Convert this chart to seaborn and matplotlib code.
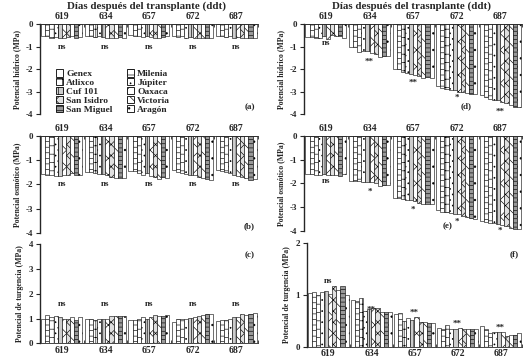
import numpy as np
import pandas as pd
import matplotlib
matplotlib.use("Agg")
import matplotlib.pyplot as plt
import seaborn as sns
from matplotlib.patches import Patch

sns.set_style("white")
plt.rcParams["font.family"] = ["Liberation Serif", "DejaVu Serif"]
plt.rcParams["font.weight"] = "bold"
plt.rcParams["axes.unicode_minus"] = False
plt.rcParams["hatch.linewidth"] = 0.45

days = ["619", "634", "657", "672", "687"]
cultivars = ["Genex", "Milenia", "Atlixco", "Júpiter", "Cuf 101",
             "Oaxaca", "San Isidro", "Victoria", "San Miguel", "Aragón"]

# (a) water potential, left
wp_a = [
    [-0.55, -0.55, -0.60, -0.58, -0.60, -0.62, -0.58, -0.55, -0.60, -0.58],
    [-0.52, -0.55, -0.58, -0.55, -0.58, -0.60, -0.62, -0.60, -0.58, -0.60],
    [-0.50, -0.52, -0.55, -0.58, -0.55, -0.58, -0.60, -0.62, -0.58, -0.55],
    [-0.55, -0.58, -0.55, -0.60, -0.58, -0.62, -0.60, -0.62, -0.60, -0.62],
    [-0.52, -0.55, -0.58, -0.55, -0.60, -0.58, -0.62, -0.60, -0.62, -0.60],
]
# (d) water potential, right
wp_d = [
    [-0.57, -0.57, -0.60, -0.60, -0.55, -0.65, -0.50, -0.55, -0.55, -0.60],
    [-1.00, -1.00, -1.25, -1.20, -1.22, -1.30, -1.35, -1.45, -1.40, -1.40],
    [-1.98, -2.00, -2.15, -2.18, -2.20, -2.25, -2.30, -2.40, -2.35, -2.40],
    [-2.75, -2.85, -2.90, -2.95, -2.95, -3.00, -3.00, -3.08, -3.10, -3.12],
    [-3.15, -3.25, -3.35, -3.40, -3.40, -3.45, -3.50, -3.60, -3.70, -3.68],
]
# (b) osmotic potential, left
op_b = [
    [-1.57, -1.62, -1.60, -1.65, -1.65, -1.62, -1.60, -1.55, -1.60, -1.62],
    [-1.48, -1.48, -1.55, -1.58, -1.58, -1.60, -1.70, -1.75, -1.72, -1.72],
    [-1.45, -1.45, -1.55, -1.60, -1.55, -1.65, -1.70, -1.78, -1.70, -1.75],
    [-1.42, -1.50, -1.52, -1.58, -1.60, -1.62, -1.68, -1.72, -1.78, -1.82],
    [-1.42, -1.45, -1.50, -1.55, -1.60, -1.65, -1.70, -1.75, -1.82, -1.80],
]
# (e) osmotic potential, right
op_e = [
    [-1.60, -1.60, -1.65, -1.65, -1.60, -1.65, -1.65, -1.65, -1.70, -1.60],
    [-1.90, -1.90, -1.90, -1.95, -1.95, -1.95, -2.00, -2.10, -2.05, -2.05],
    [-2.62, -2.62, -2.65, -2.70, -2.70, -2.75, -2.80, -2.88, -2.85, -2.85],
    [-3.12, -3.18, -3.20, -3.25, -3.30, -3.30, -3.35, -3.40, -3.45, -3.47],
    [-3.58, -3.60, -3.65, -3.65, -3.70, -3.75, -3.80, -3.85, -3.90, -3.90],
]
# (c) turgor potential, left
tp_c = [
    [1.00, 1.15, 1.05, 1.12, 1.05, 1.00, 0.98, 1.08, 0.95, 1.05],
    [0.97, 0.97, 0.95, 1.00, 1.00, 1.00, 1.10, 1.12, 1.12, 1.12],
    [0.95, 0.95, 0.97, 1.05, 1.00, 1.08, 1.15, 1.12, 1.12, 1.15],
    [0.88, 0.97, 0.97, 1.00, 1.02, 1.05, 1.10, 1.15, 1.18, 1.20],
    [0.90, 0.93, 0.93, 1.00, 1.05, 1.05, 1.20, 1.15, 1.20, 1.22],
]
# (f) turgor potential, right
tp_f = [
    [1.03, 1.06, 1.00, 1.06, 1.08, 1.02, 1.18, 1.10, 1.17, 1.00],
    [0.90, 0.88, 0.94, 0.69, 0.73, 0.75, 0.74, 0.66, 0.66, 0.66],
    [0.63, 0.645, 0.50, 0.56, 0.52, 0.57, 0.47, 0.48, 0.45, 0.45],
    [0.37, 0.34, 0.41, 0.35, 0.34, 0.37, 0.35, 0.34, 0.34, 0.35],
    [0.39, 0.34, 0.26, 0.28, 0.28, 0.28, 0.21, 0.23, 0.23, 0.26],
]

sig_a = ["ns", "ns", "ns", "ns", "ns"]
sig_d = ["ns", "**", "**", "*", "**"]
sig_b = ["ns", "ns", "ns", "ns", "ns"]
sig_e = ["ns", "*", "*", "*", "*"]
sig_c = ["ns", "ns", "ns", "ns", "ns"]
sig_f = ["ns", "**", "**", "**", "**"]

sig_y_a = [-1.0, -1.0, -1.0, -1.0, -1.0]
sig_y_d = [-0.85, -1.68, -2.62, -3.3, -3.9]
sig_y_b = [-2.0, -2.0, -2.0, -2.0, -2.0]
sig_y_e = [-1.9, -2.35, -3.1, -3.6, -4.0]
sig_y_c = [1.6, 1.6, 1.6, 1.6, 1.6]
sig_y_f = [1.27, 0.72, 0.66, 0.45, 0.37]

hatches = ["", "---", "++", "...", "|||",
           "xx", "xxx", "\\\\", "----", ".."]
fills = ["white", "white", "white", "white", "#cccccc",
         "white", "#e0e0e0", "white", "#999999", "white"]


def make_df(values):
    rows = []
    for d, vals in zip(days, values):
        for c, v in zip(cultivars, vals):
            rows.append({"day": d, "cultivar": c, "value": v})
    return pd.DataFrame(rows)


fig = plt.figure(figsize=(5.29, 3.59), dpi=100)

L, R, W = 0.0756, 0.575, 0.412
axes_spec = {
    "a": [L, 0.6825, W, 0.2505],
    "b": [L, 0.351, W, 0.271],
    "c": [L, 0.0437, W, 0.2758],
    "d": [R, 0.6825, W, 0.2505],
    "e": [R, 0.356, W, 0.266],
    "f": [R + 0.005, 0.0343, W - 0.005, 0.2887],
}

panels = [
    ("a", wp_a, sig_a, sig_y_a, "Potencial hídrico (MPa)", (-4, 0), [0, -1, -2, -3, -4], True),
    ("b", op_b, sig_b, sig_y_b, "Potencial osmótico (MPa)", (-4, 0), [0, -1, -2, -3, -4], True),
    ("c", tp_c, sig_c, sig_y_c, "Potencial de turgencia (MPa)", (0, 4), [0, 1, 2, 3, 4], False),
    ("d", wp_d, sig_d, sig_y_d, "Potencial hídrico (MPa)", (-4, 0), [0, -1, -2, -3, -4], True),
    ("e", op_e, sig_e, sig_y_e, "Potencial osmótico (MPa)", (-4, 0), [0, -1, -2, -3, -4], True),
    ("f", tp_f, sig_f, sig_y_f, "Potencial de turgencia (MPa)", (0, 2), [0, 1, 2], False),
]

axd = {}
for key, vals, sig, sigy, ylabel, ylim, yticks, top in panels:
    ax = fig.add_axes(axes_spec[key])
    axd[key] = ax
    df = make_df(vals)
    sns.barplot(data=df, x="day", y="value", hue="cultivar", order=days,
                hue_order=cultivars, palette=["white"] * 10, edgecolor="black",
                linewidth=0.4, width=0.94, legend=False, ax=ax, errorbar=None)
    for cont, h, fc in zip(ax.containers, hatches, fills):
        for p in cont:
            p.set_hatch(h)
            p.set_facecolor(fc)
    ax.set_ylim(*ylim)
    ax.set_xlim(-0.5, 4.5)
    ax.set_yticks(yticks)
    ax.set_yticklabels([str(t) for t in yticks], fontsize=6.5, fontweight="bold")
    ax.set_xlabel("")
    ax.set_ylabel(ylabel, fontsize=5.6, fontweight="bold", labelpad=3)
    ax.spines["right"].set_visible(False)
    ax.spines["left"].set_linewidth(1.0)
    if top:
        ax.spines["bottom"].set_visible(False)
        ax.spines["top"].set_linewidth(0.6)
        ax.xaxis.tick_top()
    else:
        ax.spines["top"].set_visible(False)
        ax.spines["bottom"].set_linewidth(0.6)
    ax.set_xticks(range(5))
    ax.set_xticklabels(days, fontsize=7, fontweight="bold")
    ax.set_xticks([-0.5, 0.5, 1.5, 2.5, 3.5, 4.5], minor=True)
    ax.tick_params(axis="x", which="major", length=0, pad=2)
    ax.tick_params(axis="x", which="minor", length=2, width=0.6, direction="in",
                   top=top, bottom=not top)
    ax.tick_params(axis="y", length=3, width=0.8, direction="out", left=True, pad=2)
    for i, (s, y) in enumerate(zip(sig, sigy)):
        ax.text(i, y, s, ha="center", va="center", fontsize=6.5, fontweight="bold")

# panel letters
axd["a"].text(0.985, 0.03, "(a)", transform=axd["a"].transAxes, ha="right", va="bottom", fontsize=6.5, fontweight="bold")
axd["b"].text(0.985, 0.03, "(b)", transform=axd["b"].transAxes, ha="right", va="bottom", fontsize=6.5, fontweight="bold")
axd["c"].text(0.985, 0.93, "(c)", transform=axd["c"].transAxes, ha="right", va="top", fontsize=6.5, fontweight="bold")
axd["d"].text(0.745, 0.04, "(d)", transform=axd["d"].transAxes, ha="center", va="bottom", fontsize=6.5, fontweight="bold")
axd["e"].text(0.66, 0.01, "(e)", transform=axd["e"].transAxes, ha="center", va="bottom", fontsize=6.5, fontweight="bold")
axd["f"].text(0.985, 0.93, "(f)", transform=axd["f"].transAxes, ha="right", va="top", fontsize=6.5, fontweight="bold")

# legend in panel (a)
handles = [Patch(facecolor=fc, edgecolor="black", hatch=h, linewidth=0.6)
           for h, fc in zip(hatches, fills)]
order = [0, 2, 4, 6, 8, 1, 3, 5, 7, 9]
axd["a"].legend([handles[i] for i in order], [cultivars[i] for i in order],
                ncol=2, loc="lower left", bbox_to_anchor=(0.06, -0.03),
                frameon=False, labelspacing=0.0,
                handlelength=0.8, handleheight=0.8, handletextpad=0.3,
                columnspacing=1.5, borderaxespad=0.1, borderpad=0.2,
                prop={"weight": "bold", "size": 6.8})

fig.text(0.277, 0.997, "Días después del transplante (ddt)", ha="center", va="top",
         fontsize=7.8, fontweight="bold")
fig.text(0.777, 0.997, "Días después del trasnplante (ddt)", ha="center", va="top",
         fontsize=7.8, fontweight="bold")

fig.savefig("out.png", dpi=100)
